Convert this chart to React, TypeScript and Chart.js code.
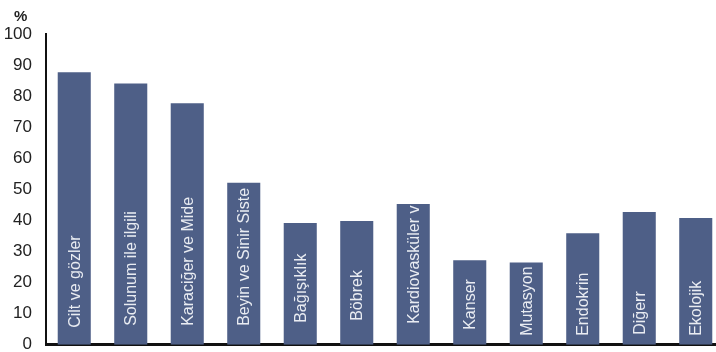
import React, { useEffect, useRef } from "react";
import { Chart, registerables } from "chart.js";

Chart.register(...registerables);

const categories = [
  "Cilt ve gözler",
  "Solunum ile ilgili",
  "Karaciğer ve Mide",
  "Beyin ve Sinir Siste",
  "Bağışıklık",
  "Böbrek",
  "Kardiovasküler v",
  "Kanser",
  "Mutasyon",
  "Endokrin",
  "Diğerr",
  "Ekolojik",
];
const values = [87.7, 84.1, 77.7, 52.1, 39.2, 39.8, 45.3, 27.2, 26.5, 35.9, 42.7, 40.8];
const yTicks = [0, 10, 20, 30, 40, 50, 60, 70, 80, 90, 100];
const unitLabel = "%";

// style: gap (px) between the axis and the start of each in-bar label
const labelGap = [17, 19, 19, 19, 22, 24, 21, 15, 9, 9, 10, 9];

const BAR_COLOR = "#4e5f87";
const FONT = "'Liberation Sans', Arial, sans-serif";

const barLabelPlugin = {
  id: "barLabels",
  afterDatasetsDraw(chart: any) {
    const ctx = chart.ctx;
    const meta = chart.getDatasetMeta(0);
    meta.data.forEach((bar: any, i: number) => {
      const { x, y, base, width } = bar.getProps(["x", "y", "base", "width"], true);
      ctx.save();
      ctx.beginPath();
      ctx.rect(x - width / 2, y, width, base - y);
      ctx.clip();
      ctx.translate(x + 1, base - labelGap[i]);
      ctx.rotate(-Math.PI / 2);
      ctx.fillStyle = "#e9ecf2";
      ctx.font = `16px ${FONT}`;
      ctx.textAlign = "left";
      ctx.textBaseline = "middle";
      ctx.fillText(chart.data.labels[i], 0, 0);
      ctx.restore();
    });
  },
};

export default function App() {
  const ref = useRef<HTMLCanvasElement>(null);
  useEffect(() => {
    if (!ref.current) return;
    const chart = new Chart(ref.current, {
      type: "bar",
      data: {
        labels: categories,
        datasets: [
          {
            data: values,
            backgroundColor: BAR_COLOR,
            borderWidth: 0,
            categoryPercentage: 1,
            barPercentage: 0.585,
          },
        ],
      },
      options: {
        responsive: false,
        animation: false,
        devicePixelRatio: 1,
        layout: { padding: { top: 34, bottom: 0, left: 0, right: 2 } },
        plugins: {
          legend: { display: false },
          tooltip: { enabled: false },
        },
        scales: {
          x: {
            grid: { display: false },
            ticks: { display: false },
            border: { display: true, color: "#111", width: 3 },
            afterFit: (s: any) => {
              s.height = 0;
            },
          },
          y: {
            min: 0,
            max: 100,
            afterBuildTicks: (s: any) => {
              s.ticks = yTicks.map((v) => ({ value: v }));
            },
            grid: { display: false },
            border: { display: true, color: "#111", width: 2 },
            ticks: {
              color: "#222",
              padding: 6,
              font: { family: FONT, size: 17 },
            },
            afterFit: (s: any) => {
              s.width = 46;
            },
          },
        },
      },
      plugins: [barLabelPlugin],
    });
    return () => chart.destroy();
  }, []);

  return (
    <div
      style={{
        position: "absolute",
        left: 0,
        top: 0,
        width: 716,
        height: 352,
        overflow: "hidden",
        background: "#fff",
      }}
    >
      <canvas ref={ref} width={726} height={361} style={{ display: "block" }} />
      <span
        style={{
          position: "absolute",
          left: 14,
          top: 7,
          fontFamily: FONT,
          fontWeight: "bold",
          fontSize: 15,
          color: "#222",
        }}
      >
        {unitLabel}
      </span>
    </div>
  );
}
